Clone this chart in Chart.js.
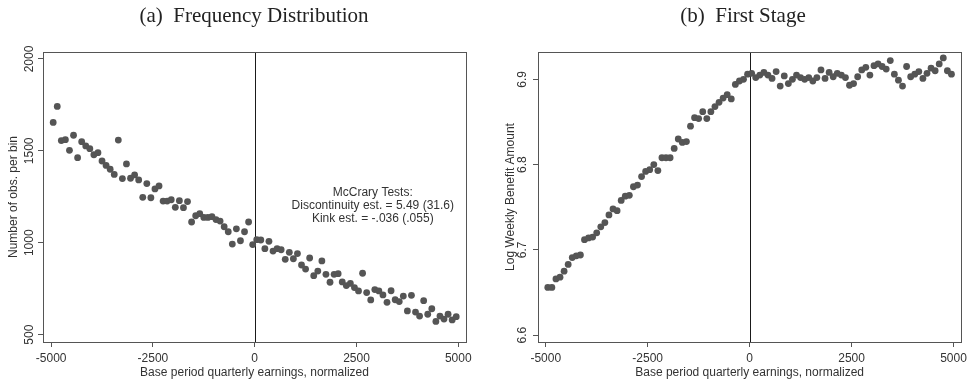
<!DOCTYPE html>
<html>
<head>
<meta charset="utf-8">
<script src="https://cdn.jsdelivr.net/npm/chart.js@4.4.1/dist/chart.umd.min.js"></script>
<style>
  body { margin: 0; background: #fff; }
  #wrap { position: relative; width: 971px; height: 382px; overflow: hidden; }
  .panel { position: absolute; top: 0; }
  .title {
    position: absolute; top: 5px;
    font-family: "Liberation Serif", "Times New Roman", serif;
    font-size: 21px; line-height: 21px; color: #222;
    white-space: pre; transform: translateX(-50%);
  }
</style>
</head>
<body>
<div id="wrap">
  <canvas id="chartA" class="panel" width="485" height="382" style="left:0"></canvas>
  <canvas id="chartB" class="panel" width="486" height="382" style="left:485px"></canvas>
  <div class="title" style="left:254px">(a)  Frequency Distribution</div>
  <div class="title" style="left:743px">(b)  First Stage</div>
</div>
<script>
// 구간 중심값 (base period quarterly earnings, normalized)
const binCenters = [
  -4950, -4850, -4750, -4650, -4550, -4450, -4350, -4250, -4150, -4050,
  -3950, -3850, -3750, -3650, -3550, -3450, -3350, -3250, -3150, -3050,
  -2950, -2850, -2750, -2650, -2550, -2450, -2350, -2250, -2150, -2050,
  -1950, -1850, -1750, -1650, -1550, -1450, -1350, -1250, -1150, -1050,
  -950, -850, -750, -650, -550, -450, -350, -250, -150, -50,
  50, 150, 250, 350, 450, 550, 650, 750, 850, 950,
  1050, 1150, 1250, 1350, 1450, 1550, 1650, 1750, 1850, 1950,
  2050, 2150, 2250, 2350, 2450, 2550, 2650, 2750, 2850, 2950,
  3050, 3150, 3250, 3350, 3450, 3550, 3650, 3750, 3850, 3950,
  4050, 4150, 4250, 4350, 4450, 4550, 4650, 4750, 4850, 4950
];

// (a) 구간별 관측치 수
const obsPerBin = [
  1655, 1742, 1556, 1561, 1503, 1585, 1463, 1550, 1527, 1512,
  1479, 1490, 1445, 1421, 1400, 1372, 1559, 1349, 1429, 1351,
  1369, 1342, 1247, 1322, 1245, 1293, 1309, 1227, 1227, 1234,
  1193, 1229, 1191, 1224, 1113, 1147, 1158, 1138, 1138, 1142,
  1126, 1118, 1087, 1060, 993, 1076, 1011, 1060, 1113, 990,
  1017, 1015, 968, 1008, 955, 968, 962, 910, 948, 913,
  941, 879, 857, 917, 821, 846, 901, 828, 785, 828,
  832, 787, 767, 779, 756, 738, 834, 729, 689, 745,
  738, 716, 676, 739, 690, 680, 710, 629, 714, 623,
  601, 685, 611, 641, 572, 601, 585, 611, 580, 598
];

// (b) log weekly benefit amount
const logWba = [
  6.656, 6.656, 6.666, 6.668, 6.675, 6.683, 6.691, 6.693, 6.694, 6.712,
  6.714, 6.715, 6.720, 6.727, 6.732, 6.741, 6.748, 6.746, 6.758, 6.763,
  6.764, 6.774, 6.776, 6.786, 6.792, 6.794, 6.800, 6.793, 6.808, 6.808,
  6.808, 6.819, 6.830, 6.826, 6.827, 6.845, 6.855, 6.854, 6.862, 6.854,
  6.862, 6.868, 6.873, 6.878, 6.882, 6.877, 6.894, 6.898, 6.900, 6.906,
  6.907, 6.902, 6.905, 6.908, 6.905, 6.901, 6.909, 6.892, 6.904, 6.895,
  6.900, 6.905, 6.902, 6.900, 6.902, 6.898, 6.902, 6.911, 6.901, 6.908,
  6.903, 6.907, 6.905, 6.902, 6.893, 6.895, 6.903, 6.911, 6.914, 6.905,
  6.916, 6.918, 6.915, 6.912, 6.922, 6.906, 6.899, 6.892, 6.915, 6.903,
  6.906, 6.909, 6.901, 6.907, 6.913, 6.910, 6.918, 6.925, 6.910, 6.906
];

// 축 눈금
const xTicks = [-5000, -2500, 0, 2500, 5000];
const yTicksA = [500, 1000, 1500, 2000];
const yTicksB = [6.6, 6.7, 6.8, 6.9];

const cutoff = 0; // kink 지점
const mccraryLines = ['McCrary Tests:', 'Discontinuity est. = 5.49 (31.6)', 'Kink est. = -.036 (.055)'];
const mccraryAt = { x: 2900, y: 1200 }; // 가운데 줄 위치 (데이터 좌표)

const sansFont = '"Liberation Sans", Arial, Helvetica, sans-serif';
const textColor = '#333';
const frameColor = '#555';
const dotColor = '#555';

// 테두리, 기준선, 회전된 y 눈금 라벨, 주석
var framePlugin = {
    id: 'frame',
    beforeDatasetsDraw: function (chart) {
        var ctx = chart.ctx;
        var area = chart.chartArea;
        var x = Math.round(chart.scales.x.getPixelForValue(cutoff)) + 0.5;
        ctx.save();
        ctx.strokeStyle = '#1a1a1a';
        ctx.lineWidth = 1;
        ctx.beginPath();
        ctx.moveTo(x, area.top);
        ctx.lineTo(x, area.bottom);
        ctx.stroke();
        ctx.restore();
    },
    afterDraw: function (chart, args, opts) {
        var ctx = chart.ctx;
        var area = chart.chartArea;
        var yScale = chart.scales.y;
        ctx.save();
        ctx.strokeStyle = frameColor;
        ctx.lineWidth = 1;
        ctx.strokeRect(Math.round(area.left) + 0.5, Math.round(area.top) + 0.5,
            Math.round(area.right - area.left), Math.round(area.bottom - area.top));

        ctx.fillStyle = textColor;
        ctx.font = '12px ' + sansFont;
        ctx.textAlign = 'center';
        ctx.textBaseline = 'middle';
        yScale.ticks.forEach(function (t) {
            var py = yScale.getPixelForValue(t.value);
            ctx.save();
            ctx.translate(area.left - opts.labelGap, py);
            ctx.rotate(-Math.PI / 2);
            ctx.fillText(opts.format(t.value), 0, 0);
            ctx.restore();
        });

        if (opts.note) {
            var nx = chart.scales.x.getPixelForValue(opts.note.at.x);
            var ny = yScale.getPixelForValue(opts.note.at.y);
            var lh = 13;
            opts.note.lines.forEach(function (line, i) {
                ctx.fillText(line, nx, ny + (i - 1) * lh);
            });
        }
        ctx.restore();
    }
};

function makePanel(canvasId, values, p) {
    var points = binCenters.map(function (x, i) {
        return { x: x, y: values[i] };
    });
    return new Chart(document.getElementById(canvasId), {
        type: 'scatter',
        data: {
            datasets: [{
                data: points,
                backgroundColor: dotColor,
                borderWidth: 0,
                pointRadius: 3.4,
                pointHoverRadius: 3.4
            }]
        },
        plugins: [framePlugin],
        options: {
            responsive: false,
            animation: false,
            events: [],
            layout: { padding: { top: 52, right: p.padRight, left: 0, bottom: 0 } },
            plugins: {
                legend: { display: false },
                tooltip: { enabled: false },
                frame: { labelGap: p.labelGap, format: p.yFormat, note: p.note }
            },
            scales: {
                x: {
                    type: 'linear',
                    min: p.xMin,
                    max: p.xMax,
                    afterBuildTicks: function (s) {
                        s.ticks = xTicks.map(function (v) { return { value: v }; });
                    },
                    afterFit: function (s) { s.height = 40; },
                    border: { display: false },
                    grid: { drawOnChartArea: false, drawTicks: true, tickLength: 5, color: frameColor },
                    ticks: {
                        padding: 4,
                        color: textColor,
                        font: { family: sansFont, size: 12 },
                        maxRotation: 0,
                        callback: function (v) { return String(v); }
                    },
                    title: {
                        display: true,
                        text: 'Base period quarterly earnings, normalized',
                        color: textColor,
                        font: { family: sansFont, size: 12 },
                        padding: { top: 0, bottom: 2 }
                    }
                },
                y: {
                    type: 'linear',
                    min: p.yMin,
                    max: p.yMax,
                    afterBuildTicks: function (s) {
                        s.ticks = p.yTicks.map(function (v) { return { value: v }; });
                    },
                    afterFit: function (s) { s.width = p.yWidth; },
                    border: { display: false },
                    grid: { drawOnChartArea: false, drawTicks: true, tickLength: 5, color: frameColor },
                    ticks: { display: false },
                    title: {
                        display: true,
                        text: p.yTitle,
                        color: textColor,
                        font: { family: sansFont, size: 12 },
                        padding: { top: p.yTitlePad, bottom: 0 }
                    }
                }
            }
        }
    });
}

var chartA = makePanel('chartA', obsPerBin, {
    xMin: -5200, xMax: 5190,
    yMin: 460, yMax: 2038,
    yTicks: yTicksA,
    yFormat: function (v) { return String(v); },
    yTitle: 'Number of obs. per bin',
    yWidth: 43, yTitlePad: 6, padRight: 19, labelGap: 13.7,
    note: { lines: mccraryLines, at: mccraryAt }
});

var chartB = makePanel('chartB', logWba, {
    xMin: -5190, xMax: 5190,
    yMin: 6.592, yMax: 6.932,
    yTicks: yTicksB,
    yFormat: function (v) { return v.toFixed(1); },
    yTitle: 'Log Weekly Benefit Amount',
    yWidth: 53, yTitlePad: 18.5, padRight: 9, labelGap: 15,
    note: null
});
</script>
</body>
</html>
